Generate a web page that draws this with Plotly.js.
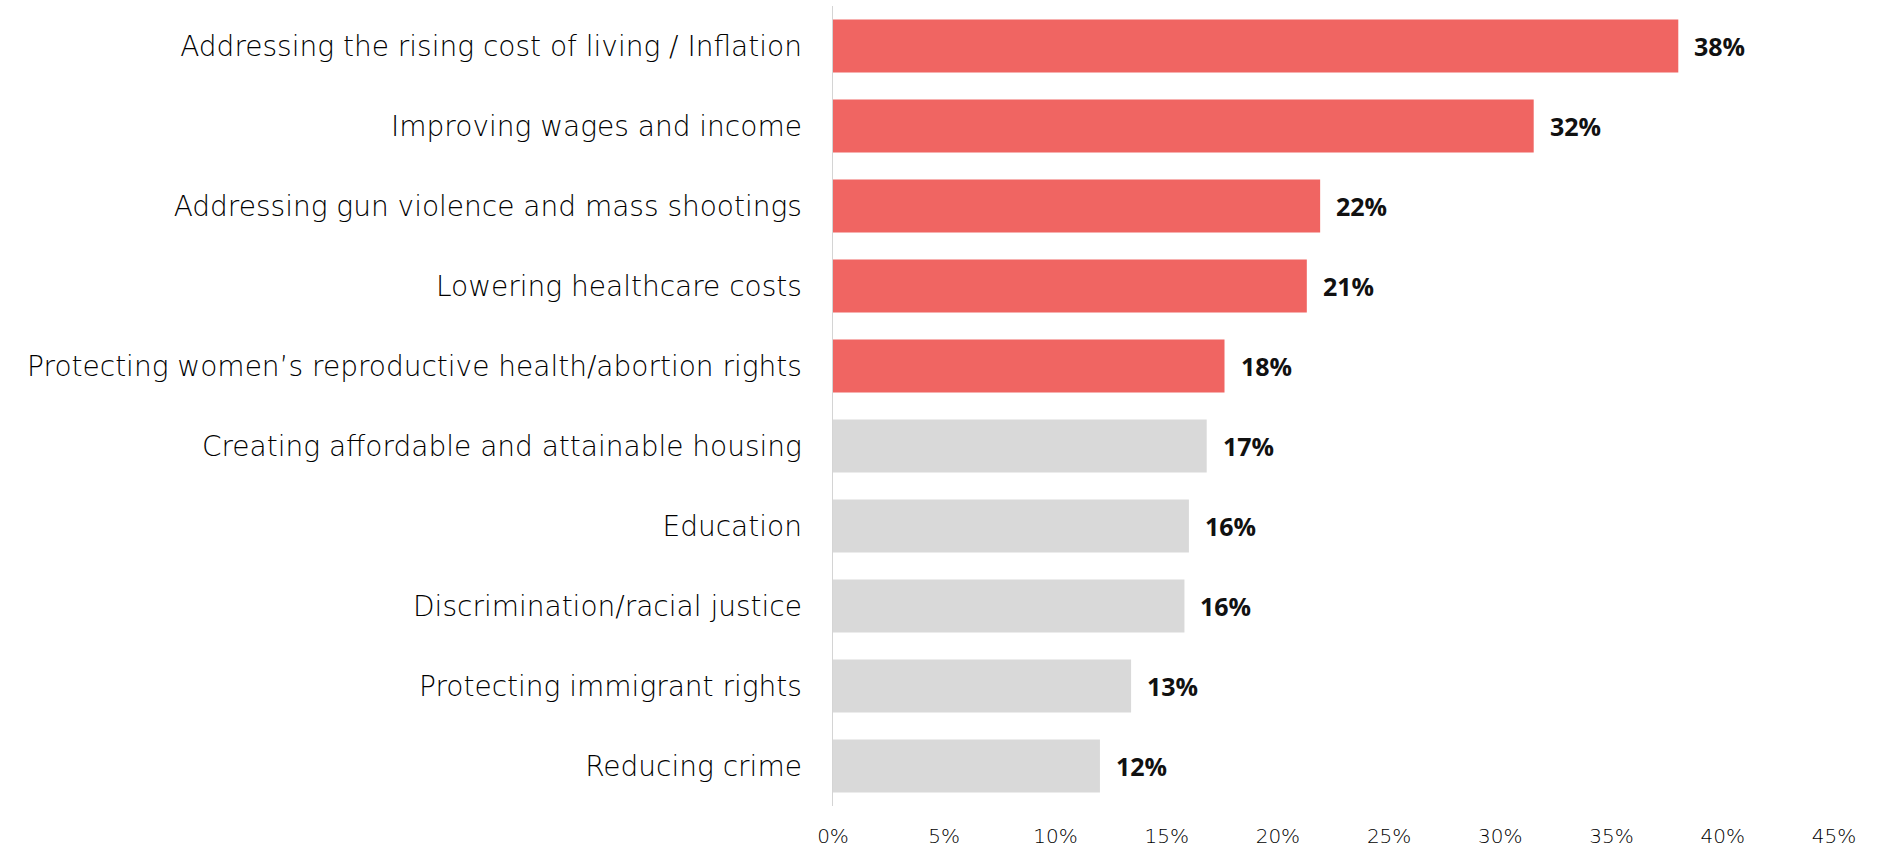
<!DOCTYPE html>
<html><head><meta charset="utf-8">
<script src="https://cdn.plot.ly/plotly-3.0.1.min.js"></script>
<style>html,body{margin:0;padding:0;background:#fff}#chart{width:1885px;height:848px}</style>
</head><body><div id="chart"></div>
<script>
const categories = [
  "Addressing the rising cost of living / Inflation",
  "Improving wages and income",
  "Addressing gun violence and mass shootings",
  "Lowering healthcare costs",
  "Protecting women\u2019s reproductive health/abortion rights",
  "Creating affordable and attainable housing",
  "Education",
  "Discrimination/racial justice",
  "Protecting immigrant rights",
  "Reducing crime"
];
const values = [38.0, 31.5, 21.9, 21.3, 17.6, 16.8, 16.0, 15.8, 13.4, 12.0];
const labels = ["38%", "32%", "22%", "21%", "18%", "17%", "16%", "16%", "13%", "12%"];
const highlighted = [true, true, true, true, true, false, false, false, false, false];
const xTickVals = [0, 5, 10, 15, 20, 25, 30, 35, 40, 45];
const xTickText = ["0%", "5%", "10%", "15%", "20%", "25%", "30%", "35%", "40%", "45%"];

const RED = "#F06562", GRAY = "#D9D9D9";
const LIGHT = "'DejaVu Sans', sans-serif";
const trace = {
  type: "bar", orientation: "h",
  x: values, y: categories,
  marker: {color: highlighted.map(h => h ? RED : GRAY)},
  hoverinfo: "skip"
};
const annotations = values.map((v, i) => ({
  x: v, y: categories[i], xref: "x", yref: "y",
  text: "<b>" + labels[i] + "</b>", showarrow: false,
  xanchor: "left", yanchor: "middle", xshift: 14,
  font: {family: "Open Sans, sans-serif", size: 25, color: "#111"}
}));
const layout = {
  width: 1885, height: 848,
  margin: {l: 833, r: 51, t: 6, b: 42},
  paper_bgcolor: "#fff", plot_bgcolor: "#fff",
  bargap: 0.335,
  showlegend: false,
  xaxis: {
    range: [0, 45], tickvals: xTickVals, ticktext: xTickText,
    showgrid: false, zeroline: false, showline: false, ticks: "",
    ticklabelstandoff: 16,
    tickfont: {family: LIGHT, size: 20, weight: 200, color: "#000"},
    fixedrange: true
  },
  yaxis: {
    autorange: "reversed", showgrid: false, zeroline: false,
    showline: true, linecolor: "#D4D4D4", linewidth: 1.5,
    ticks: "", ticklabelstandoff: 24,
    tickfont: {family: LIGHT, size: 28, weight: 200, color: "#000"},
    fixedrange: true
  },
  annotations: annotations
};
Plotly.newPlot("chart", [trace], layout, {displayModeBar: false, staticPlot: true});
</script></body></html>
